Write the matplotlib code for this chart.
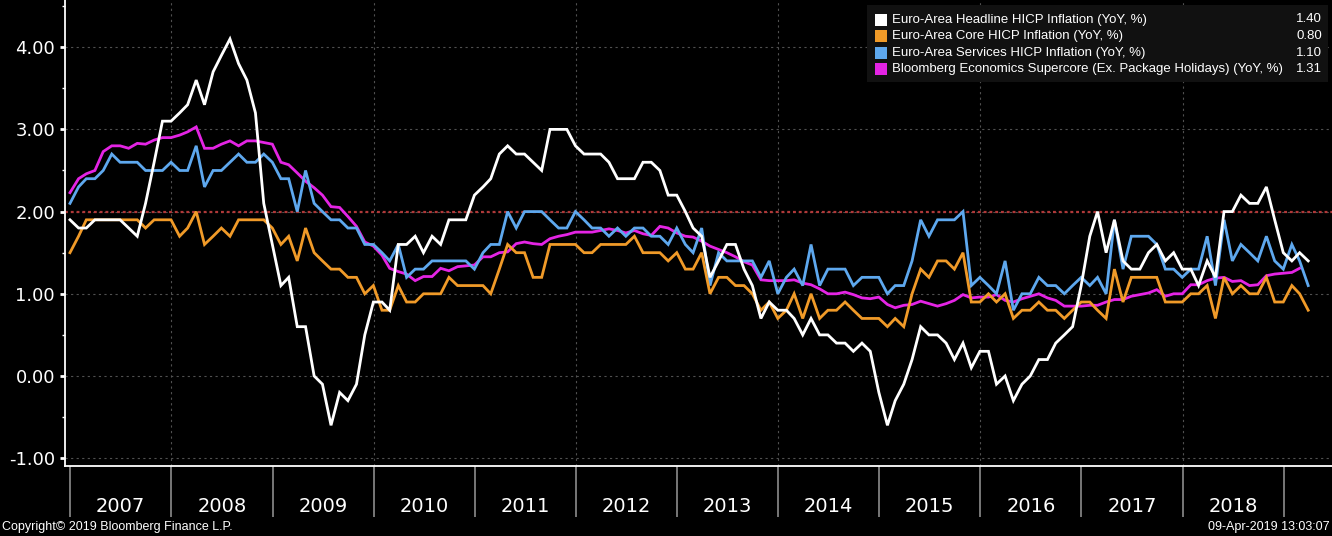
import numpy as np
import pandas as pd
import matplotlib
matplotlib.use('Agg')
import matplotlib.pyplot as plt
from matplotlib.patches import Rectangle

W, H = 1332, 536

# monthly values, first point is Dec-2006
headline = [1.9, 1.8, 1.8, 1.9, 1.9, 1.9, 1.9, 1.8, 1.7, 2.1, 2.6, 3.1, 3.1,
            3.2, 3.3, 3.6, 3.3, 3.7, 3.9, 4.1, 3.8, 3.6, 3.2, 2.1, 1.6,
            1.1, 1.2, 0.6, 0.6, 0.0, -0.1, -0.6, -0.2, -0.3, -0.1, 0.5, 0.9,
            0.9, 0.8, 1.6, 1.6, 1.7, 1.5, 1.7, 1.6, 1.9, 1.9, 1.9, 2.2,
            2.3, 2.4, 2.7, 2.8, 2.7, 2.7, 2.6, 2.5, 3.0, 3.0, 3.0, 2.8,
            2.7, 2.7, 2.7, 2.6, 2.4, 2.4, 2.4, 2.6, 2.6, 2.5, 2.2, 2.2,
            2.0, 1.8, 1.7, 1.2, 1.4, 1.6, 1.6, 1.3, 1.1, 0.7, 0.9, 0.8,
            0.8, 0.7, 0.5, 0.7, 0.5, 0.5, 0.4, 0.4, 0.3, 0.4, 0.3, -0.2,
            -0.6, -0.3, -0.1, 0.2, 0.6, 0.5, 0.5, 0.4, 0.2, 0.4, 0.1, 0.3,
            0.3, -0.1, 0.0, -0.3, -0.1, 0.0, 0.2, 0.2, 0.4, 0.5, 0.6, 1.1,
            1.7, 2.0, 1.5, 1.9, 1.4, 1.3, 1.3, 1.5, 1.6, 1.4, 1.5, 1.3,
            1.3, 1.1, 1.4, 1.2, 2.0, 2.0, 2.2, 2.1, 2.1, 2.3, 1.9, 1.5, 1.4, 1.5, 1.4]

core = [1.5, 1.7, 1.9, 1.9, 1.9, 1.9, 1.9, 1.9, 1.9, 1.8, 1.9, 1.9, 1.9,
        1.7, 1.8, 2.0, 1.6, 1.7, 1.8, 1.7, 1.9, 1.9, 1.9, 1.9, 1.8,
        1.6, 1.7, 1.4, 1.8, 1.5, 1.4, 1.3, 1.3, 1.2, 1.2, 1.0, 1.1,
        0.8, 0.8, 1.1, 0.9, 0.9, 1.0, 1.0, 1.0, 1.2, 1.1, 1.1, 1.1,
        1.1, 1.0, 1.3, 1.6, 1.5, 1.5, 1.2, 1.2, 1.6, 1.6, 1.6, 1.6,
        1.5, 1.5, 1.6, 1.6, 1.6, 1.6, 1.7, 1.5, 1.5, 1.5, 1.4, 1.5,
        1.3, 1.3, 1.5, 1.0, 1.2, 1.2, 1.1, 1.1, 1.0, 0.8, 0.9, 0.7,
        0.8, 1.0, 0.7, 1.0, 0.7, 0.8, 0.8, 0.9, 0.8, 0.7, 0.7, 0.7,
        0.6, 0.7, 0.6, 1.0, 1.3, 1.2, 1.4, 1.4, 1.3, 1.5, 0.9, 0.9,
        1.0, 0.9, 1.0, 0.7, 0.8, 0.8, 0.9, 0.8, 0.8, 0.7, 0.8, 0.9,
        0.9, 0.8, 0.7, 1.3, 0.9, 1.2, 1.2, 1.2, 1.2, 0.9, 0.9, 0.9,
        1.0, 1.0, 1.1, 0.7, 1.2, 1.0, 1.1, 1.0, 1.0, 1.2, 0.9, 0.9, 1.1, 1.0, 0.8]

services = [2.1, 2.3, 2.4, 2.4, 2.5, 2.7, 2.6, 2.6, 2.6, 2.5, 2.5, 2.5, 2.6,
            2.5, 2.5, 2.8, 2.3, 2.5, 2.5, 2.6, 2.7, 2.6, 2.6, 2.7, 2.6,
            2.4, 2.4, 2.0, 2.5, 2.1, 2.0, 1.9, 1.9, 1.8, 1.8, 1.6, 1.6,
            1.5, 1.4, 1.6, 1.2, 1.3, 1.3, 1.4, 1.4, 1.4, 1.4, 1.4, 1.3,
            1.5, 1.6, 1.6, 2.0, 1.8, 2.0, 2.0, 2.0, 1.9, 1.8, 1.8, 2.0,
            1.9, 1.8, 1.8, 1.7, 1.8, 1.7, 1.8, 1.8, 1.7, 1.7, 1.6, 1.8,
            1.6, 1.5, 1.8, 1.1, 1.5, 1.4, 1.4, 1.4, 1.4, 1.2, 1.4, 1.0,
            1.2, 1.3, 1.1, 1.6, 1.1, 1.3, 1.3, 1.3, 1.1, 1.2, 1.2, 1.2,
            1.0, 1.1, 1.1, 1.4, 1.9, 1.7, 1.9, 1.9, 1.9, 2.0, 1.1, 1.2,
            1.1, 1.0, 1.4, 0.8, 1.0, 1.0, 1.2, 1.1, 1.1, 1.0, 1.1, 1.2,
            1.1, 1.2, 1.0, 1.9, 1.3, 1.7, 1.7, 1.7, 1.6, 1.3, 1.3, 1.2,
            1.3, 1.3, 1.7, 1.1, 1.9, 1.4, 1.6, 1.5, 1.4, 1.7, 1.4, 1.3, 1.6, 1.4, 1.1]

# supercore stops one month earlier (Feb-2019)
supercore = [2.23, 2.40, 2.46, 2.50, 2.73, 2.80, 2.80, 2.77, 2.83, 2.82, 2.87, 2.90, 2.90,
             2.93, 2.97, 3.03, 2.77, 2.77, 2.82, 2.86, 2.80, 2.86, 2.86, 2.84, 2.82,
             2.60, 2.57, 2.47, 2.37, 2.29, 2.20, 2.06, 2.05, 1.94, 1.82, 1.63, 1.58,
             1.47, 1.31, 1.27, 1.24, 1.16, 1.21, 1.21, 1.31, 1.28, 1.33, 1.34, 1.35,
             1.45, 1.45, 1.50, 1.51, 1.61, 1.63, 1.61, 1.60, 1.67, 1.70, 1.72, 1.75,
             1.75, 1.75, 1.77, 1.79, 1.77, 1.74, 1.77, 1.73, 1.71, 1.82, 1.80, 1.74,
             1.70, 1.69, 1.64, 1.58, 1.54, 1.50, 1.45, 1.39, 1.35, 1.17, 1.16, 1.16,
             1.16, 1.17, 1.13, 1.11, 1.06, 1.00, 1.00, 1.02, 0.99, 0.95, 0.94, 0.96,
             0.87, 0.83, 0.86, 0.87, 0.91, 0.88, 0.85, 0.88, 0.92, 0.99, 0.95, 0.96,
             0.96, 0.99, 0.92, 0.90, 0.94, 0.97, 1.00, 0.95, 0.92, 0.85, 0.85, 0.85,
             0.86, 0.86, 0.90, 0.93, 0.93, 0.97, 0.99, 1.01, 1.05, 0.97, 1.00, 1.00,
             1.11, 1.11, 1.16, 1.19, 1.20, 1.15, 1.16, 1.10, 1.11, 1.22, 1.24, 1.25, 1.26, 1.31]

legend_labels = ['Euro-Area Headline HICP Inflation (YoY, %)',
                 'Euro-Area Core HICP Inflation (YoY, %)',
                 'Euro-Area Services HICP Inflation (YoY, %)',
                 'Bloomberg Economics Supercore (Ex. Package Holidays) (YoY, %)']
legend_values = ['1.40', '0.80', '1.10', '1.31']
colors = ['#ffffff', '#f09a28', '#5ea8ee', '#e424e4']

years = list(range(2007, 2019))
yticks = [-1, 0, 1, 2, 3, 4]


def month_ends(n):
    return pd.date_range('2006-12-01', periods=n, freq='MS') + pd.offsets.MonthEnd(0)


def px_x(x):
    return x / W


def px_y(y):
    return 1 - y / H


def draw_legend(fig):
    fig.patches.append(Rectangle((px_x(867), px_y(82)), px_x(1328 - 867), (82 - 5) / H,
                                 transform=fig.transFigure, facecolor='#111111',
                                 edgecolor='none', zorder=5))
    for k, (lab, val, c) in enumerate(zip(legend_labels, legend_values, colors)):
        yc = 19.5 + k * 16.6
        fig.patches.append(Rectangle((px_x(875), px_y(yc + 6)), 12 / W, 12 / H,
                                     transform=fig.transFigure, facecolor=c,
                                     edgecolor='none', zorder=6))
        fig.text(px_x(892), px_y(yc), lab, color='white', fontsize=9.5,
                 family='Liberation Sans', va='center', ha='left', zorder=7)
        fig.text(px_x(1322), px_y(yc), val, color='white', fontsize=9.5,
                 family='Liberation Sans', va='center', ha='right', zorder=7)


fig = plt.figure(figsize=(W / 100, H / 100), dpi=100, facecolor='black')
ax = fig.add_axes([65 / W, 70 / H, 1 - 65 / W, 1 - 70 / H])
ax.set_facecolor('black')

# grid + 2% target line
for v in yticks:
    ax.axhline(v, color='#505050', lw=0.8, ls=(0, (2, 3)), zorder=1)
for yr in range(2008, 2019, 2):
    ax.axvline(pd.Timestamp(f'{yr}-01-01'), color='#505050', lw=0.8, ls=(0, (2, 3)), zorder=1)
ax.axhline(2.0, color='#b03838', lw=1.6, ls=(0, (1.3, 1.3)), zorder=2)

series = [headline, core, services, supercore]
for vals, c, z in zip(series[::-1], colors[::-1], [3, 4, 5, 6]):
    ax.plot(month_ends(len(vals)), vals, color=c, lw=2.0, zorder=z, solid_joinstyle='miter')

ax.set_ylim(-1.095, 4.574)
ax.set_xlim(pd.Timestamp('2006-12-13'), pd.Timestamp('2019-06-25'))

ax.set_yticks(yticks)
ax.set_yticklabels([f'{v:.2f}' for v in yticks])
ax.set_yticks(np.arange(-0.5, 4.6, 1.0), minor=True)
ax.tick_params(axis='y', which='major', length=3.6, width=2, colors='white',
               labelsize=13, pad=3.6)
ax.tick_params(axis='y', which='minor', length=2.2, width=1, colors='white')

ax.set_xticks([pd.Timestamp(f'{y}-01-01') for y in years + [2019]])
ax.set_xticklabels([])
ax.set_xticks([pd.Timestamp(f'{y}-07-02') for y in years], minor=True)
ax.set_xticklabels([str(y) for y in years], minor=True)
ax.tick_params(axis='x', which='major', length=36.5, width=1.2, color='#8c8c8c')
ax.tick_params(axis='x', which='minor', length=0, pad=22, labelsize=14, labelcolor='white')

for s in ['top', 'right']:
    ax.spines[s].set_visible(False)
for s in ['left', 'bottom']:
    ax.spines[s].set_color('white')
    ax.spines[s].set_linewidth(1.3)

draw_legend(fig)

fig.text(px_x(2), px_y(527), 'Copyright\u00a9 2019 Bloomberg Finance L.P.', color='white',
         fontsize=9, family='Liberation Sans', va='center', ha='left')
fig.text(px_x(1330), px_y(527), '09-Apr-2019 13:03:07', color='white',
         fontsize=9, family='Liberation Sans', va='center', ha='right')

fig.savefig('out.png', dpi=100, facecolor='black')
